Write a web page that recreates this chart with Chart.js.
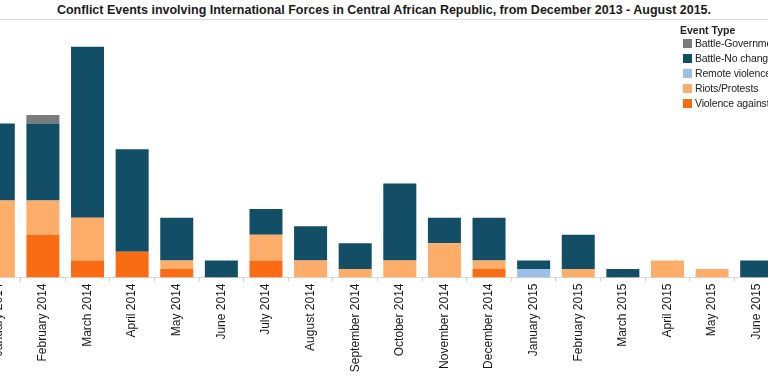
<!DOCTYPE html>
<html>
<head>
<meta charset="utf-8">
<script src="https://cdn.jsdelivr.net/npm/chart.js@4.4.1/dist/chart.umd.min.js"></script>
<style>
  html, body { margin: 0; padding: 0; background: #fff; width: 768px; height: 384px; overflow: hidden; position: relative; }
  #title { position: absolute; top: 3px; left: 0; width: 768px; text-align: center; font: bold 12.5px "Liberation Sans", Arial, sans-serif; color: #1a1a1a; white-space: nowrap; }
  #rule { position: absolute; top: 19px; left: 0; width: 768px; height: 1px; background: #dcdcdc; }
  #wrap { position: absolute; top: 21px; left: -24px; width: 803px; height: 363px; }
  #legend { position: absolute; top: 25px; left: 680px; font: 10.5px "Liberation Sans", Arial, sans-serif; letter-spacing: -0.15px; color: #222; white-space: nowrap; }
  #legend .head { font-weight: bold; letter-spacing: 0; height: 11px; line-height: 11px; margin-bottom: 0; }
  #legend .row { height: 15px; line-height: 15px; padding-left: 3px; }
  #legend .sw { display: inline-block; width: 9px; height: 9px; margin-right: 3px; vertical-align: -1px; }
</style>
</head>
<body>
<div id="title">Conflict Events involving International Forces in Central African Republic, from December 2013 - August 2015.</div>
<div id="rule"></div>
<div id="wrap"><canvas id="chart"></canvas></div>
<div id="legend"></div>
<script>
// Months visible in the picture
const months = ['January 2014', 'February 2014', 'March 2014', 'April 2014', 'May 2014', 'June 2014',
  'July 2014', 'August 2014', 'September 2014', 'October 2014', 'November 2014', 'December 2014',
  'January 2015', 'February 2015', 'March 2015', 'April 2015', 'May 2015', 'June 2015'];

// Event counts per month (bottom to top of the stack)
const violenceAgainst = [0, 5, 2, 3, 1, 0, 2, 0, 0, 0, 0, 1, 0, 0, 0, 0, 0, 0];
const remoteViolence  = [0, 0, 0, 0, 0, 0, 0, 0, 0, 0, 0, 0, 1, 0, 0, 0, 0, 0];
const riotsProtests   = [9, 4, 5, 0, 1, 0, 3, 2, 1, 2, 4, 1, 0, 1, 0, 2, 1, 0];
const battleNoChange  = [9, 9, 20, 12, 5, 2, 3, 4, 3, 9, 3, 5, 1, 4, 1, 0, 0, 2];
const battleGovt      = [0, 1, 0, 0, 0, 0, 0, 0, 0, 0, 0, 0, 0, 0, 0, 0, 0, 0];

const series = [
  { label: 'Violence against Civilians', data: violenceAgainst, color: '#f96c13' },
  { label: 'Remote violence', data: remoteViolence, color: '#9cc0e7' },
  { label: 'Riots/Protests', data: riotsProtests, color: '#fcad69' },
  { label: 'Battle-No change of territory', data: battleNoChange, color: '#124f67' },
  { label: 'Battle-Government regains territory', data: battleGovt, color: '#7b7b7b' }
];

// Legend is alphabetical, like the original
const legendOrder = series.slice().sort((a, b) => a.label.localeCompare(b.label));
const legend = document.getElementById('legend');
legend.innerHTML = '<div class="head">Event Type</div>' + legendOrder.map(s =>
  '<div class="row"><span class="sw" style="background:' + s.color + '"></span>' + s.label + '</div>'
).join('');

const ctx = document.getElementById('chart').getContext('2d');
new Chart(ctx, {
  type: 'bar',
  data: {
    labels: months,
    datasets: series.map(s => ({
      label: s.label,
      data: s.data,
      backgroundColor: s.color,
      borderWidth: 0,
      barPercentage: 0.74,
      categoryPercentage: 1
    }))
  },
  options: {
    responsive: true,
    maintainAspectRatio: false,
    animation: false,
    layout: { padding: 0 },
    plugins: {
      legend: { display: false },
      tooltip: { enabled: false }
    },
    scales: {
      x: {
        stacked: true,
        afterFit: scale => { scale.height = 106.5; },
        grid: { offset: true, drawOnChartArea: false, tickLength: 4, color: '#cfcfcf' },
        border: { color: '#d8d8d8' },
        ticks: {
          minRotation: 90, maxRotation: 90, autoSkip: false, padding: 2,
          color: '#1a1a1a',
          font: { family: '"Liberation Sans", Arial, sans-serif', size: 12 }
        }
      },
      y: {
        stacked: true,
        display: false,
        min: 0,
        max: 30
      }
    }
  }
});
</script>
</body>
</html>
